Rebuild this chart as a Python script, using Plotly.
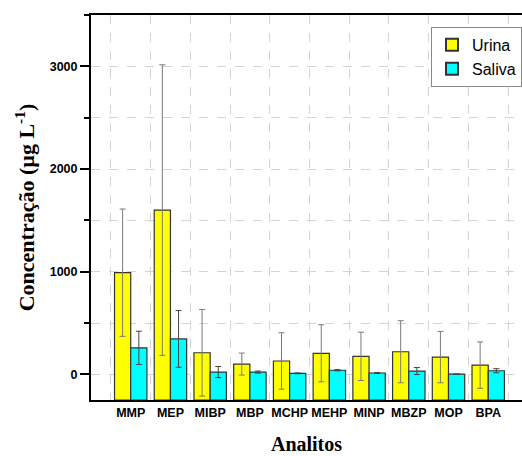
import plotly.graph_objects as go

categories = ["MMP", "MEP", "MIBP", "MBP", "MCHP", "MEHP", "MINP", "MBZP", "MOP", "BPA"]
urina = [990, 1600, 210, 100, 130, 205, 175, 220, 168, 90]
urina_err = [620, 1415, 422, 107, 275, 278, 235, 302, 250, 226]
saliva = [258, 345, 22, 22, 10, 40, 13, 32, 3, 35]
saliva_err = [162, 276, 54, 10, 4, 6, 5, 34, 0, 20]

y_range = [-250, 3500]
base = y_range[0]
positions = list(range(1, len(categories) + 1))

fig = go.Figure()
fig.add_trace(go.Bar(
    name="Urina", x=positions, y=[v - base for v in urina], base=base,
    marker=dict(color="#ffff00", line=dict(color="#333333", width=1.2)),
    error_y=dict(type="data", array=urina_err, color="#7a7a7a", thickness=1, width=3),
))
fig.add_trace(go.Bar(
    name="Saliva", x=positions, y=[v - base for v in saliva], base=base,
    marker=dict(color="#00ffff", line=dict(color="#333333", width=1.2)),
    error_y=dict(type="data", array=saliva_err, color="#444444", thickness=1, width=3),
))

grid_color = "#d4d4d4"
fig.update_layout(
    width=522, height=456,
    margin=dict(l=91, r=0, t=15, b=55.5),
    paper_bgcolor="white", plot_bgcolor="white",
    barmode="group", bargap=0.184, bargroupgap=0,
    showlegend=True,
    legend=dict(
        x=1.0, y=0.969, xanchor="right", yanchor="top",
        bgcolor="white", bordercolor="#888888", borderwidth=1,
        font=dict(family="Liberation Sans, Arial", size=16, color="black"),
        tracegroupgap=0, itemsizing="constant",
    ),
    xaxis=dict(
        range=[0, 10.85],
        tickmode="array", tickvals=positions, ticktext=categories,
        ticks="", showline=True, linecolor="black", linewidth=2, mirror=True,
        showgrid=False, zeroline=False,
        tickfont=dict(family="Liberation Sans, Arial", size=12.5, color="black", weight="bold"),
        minor=dict(tickvals=[p + 0.5 for p in [0] + positions], showgrid=True,
                   gridcolor=grid_color, griddash="dash", gridwidth=1, ticks=""),
        title=dict(text="Analitos", standoff=18,
                   font=dict(family="Liberation Serif, Times New Roman", size=20, color="black", weight="bold")),
    ),
    yaxis=dict(
        range=y_range, tickmode="linear", tick0=0, dtick=1000,
        ticks="outside", ticklen=9, tickwidth=2, tickcolor="black",
        showline=True, linecolor="black", linewidth=2, mirror=False,
        showgrid=True, gridcolor=grid_color, griddash="dash", gridwidth=1,
        zeroline=False,
        tickfont=dict(family="Liberation Sans, Arial", size=12.5, color="black", weight="bold"),
        minor=dict(tick0=500, dtick=1000, ticks="outside", ticklen=5, tickwidth=2, tickcolor="black",
                   showgrid=True, gridcolor=grid_color, griddash="dash", gridwidth=1),
        title=dict(text="Concentração (µg L<sup>-1</sup>)", standoff=9,
                   font=dict(family="Liberation Serif, Times New Roman", size=22, color="black", weight="bold")),
    ),
)

fig.write_html(
    "out.html",
    config={"displayModeBar": False},
    post_script="document.body.style.margin='0';document.body.style.overflow='hidden';",
)
